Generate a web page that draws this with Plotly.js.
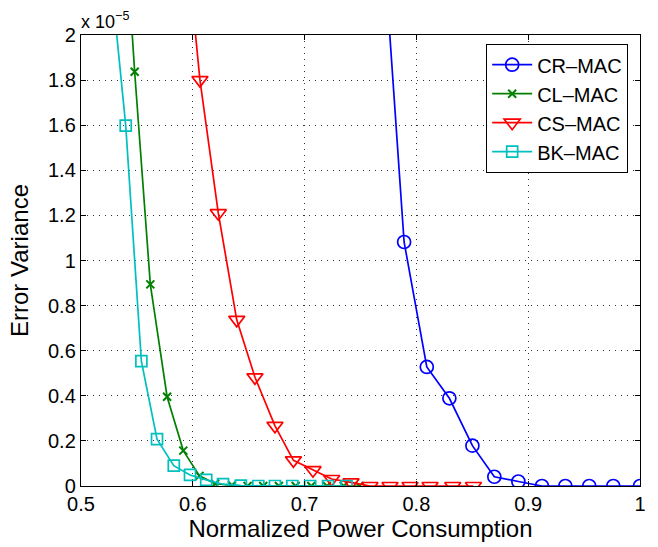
<!DOCTYPE html>
<html>
<head>
<meta charset="utf-8">
<script src="https://cdn.plot.ly/plotly-3.0.1.min.js"></script>
<style>html,body{margin:0;padding:0;background:#fff;}#chart{width:658px;height:547px;}</style>
</head>
<body>
<div id="chart"></div>
<script>
// Values of error variance are in units of 1e-5
const crX = [0.768, 0.789, 0.8093, 0.8295, 0.8501, 0.8697, 0.8912, 0.9123, 0.9332, 0.9546, 0.9761, 1.0];
const crY = [2.59, 1.082, 0.528, 0.389, 0.179, 0.041, 0.020, 0, 0, 0, 0, 0];

const clX = [0.533, 0.548, 0.562, 0.577, 0.5915, 0.606, 0.620, 0.635, 0.649, 0.663, 0.677, 0.692, 0.706, 0.720, 0.735, 0.749];
const clY = [2.98, 1.837, 0.894, 0.396, 0.157, 0.045, 0.010, 0.003, 0, 0, 0, 0, 0, 0, 0, 0];

const csX = [0.589, 0.6064, 0.6228, 0.6393, 0.6556, 0.6735, 0.690, 0.7075, 0.7242, 0.7415, 0.7585, 0.7764, 0.7943, 0.8122, 0.8325, 0.851];
const csY = [2.68, 1.80, 1.21, 0.737, 0.482, 0.267, 0.114, 0.07, 0.031, 0.016, 0, 0, 0, 0, 0, 0];

const bkX = [0.525, 0.540, 0.554, 0.568, 0.583, 0.5975, 0.612, 0.627, 0.643, 0.6586, 0.6735, 0.689, 0.705, 0.721, 0.7375];
const bkY = [2.35, 1.598, 0.554, 0.208, 0.09, 0.049, 0.027, 0.008, 0.002, 0, 0, 0, 0, 0, 0];

const seriesNames = ['CR\u2013MAC', 'CL\u2013MAC', 'CS\u2013MAC', 'BK\u2013MAC'];
const xTicks = [0.5, 0.6, 0.7, 0.8, 0.9, 1];
const xTickText = ['0.5', '0.6', '0.7', '0.8', '0.9', '1'];
const yTicks = [0, 0.2, 0.4, 0.6, 0.8, 1, 1.2, 1.4, 1.6, 1.8, 2];
const yTickText = ['0', '0.2', '0.4', '0.6', '0.8', '1', '1.2', '1.4', '1.6', '1.8', '2'];

const FONT = 'Liberation Sans, Arial, Helvetica, sans-serif';

const traces = [
  {x: crX, y: crY, name: seriesNames[0], mode: 'lines+markers',
   line: {color: '#0000FF', width: 1.7},
   marker: {symbol: 'circle-open', size: 13, color: '#0000FF', line: {width: 1.7, color: '#0000FF'}}},
  {x: clX, y: clY, name: seriesNames[1], mode: 'lines+markers',
   line: {color: '#008000', width: 1.7},
   marker: {symbol: 'x-thin-open', size: 8, color: '#008000', line: {width: 2, color: '#008000'}}},
  {x: csX, y: csY, name: seriesNames[2], mode: 'lines+markers',
   line: {color: '#FF0000', width: 1.7},
   marker: {symbol: 'triangle-down-open', size: 14, color: '#FF0000', line: {width: 1.7, color: '#FF0000'}}},
  {x: bkX, y: bkY, name: seriesNames[3], mode: 'lines+markers',
   line: {color: '#00BFBF', width: 1.7},
   marker: {symbol: 'square-open', size: 11, color: '#00BFBF', line: {width: 1.7, color: '#00BFBF'}}}
];

const axisCommon = {
  showline: true, linecolor: '#000', linewidth: 1.2, mirror: 'ticks',
  ticks: 'inside', ticklen: 5, tickcolor: '#000', tickwidth: 1,
  showgrid: true, gridcolor: '#333', griddash: '1px,5px', gridwidth: 1,
  zeroline: false,
  tickfont: {family: FONT, size: 20, color: '#000'}
};

const layout = {
  width: 658, height: 547,
  margin: {l: 81, r: 18, t: 35, b: 61},
  paper_bgcolor: '#fff', plot_bgcolor: '#fff',
  showlegend: true,
  xaxis: Object.assign({}, axisCommon, {
    range: [0.5, 1], tickvals: xTicks, ticktext: xTickText,
    title: {text: 'Normalized Power Consumption', font: {family: FONT, size: 24, color: '#000'}, standoff: 6}
  }),
  yaxis: Object.assign({}, axisCommon, {
    range: [0, 2], tickvals: yTicks, ticktext: yTickText,
    title: {text: 'Error Variance', font: {family: FONT, size: 24, color: '#000'}, standoff: 12}
  }),
  legend: {
    x: 0.9785, y: 0.98, xanchor: 'right', yanchor: 'top',
    bgcolor: '#fff', bordercolor: '#000', borderwidth: 1.2,
    font: {family: FONT, size: 20, color: '#000'},
    tracegroupgap: 0, itemwidth: 40
  },
  annotations: [{
    xref: 'paper', yref: 'paper', x: 0, y: 1, xanchor: 'left', yanchor: 'bottom',
    text: 'x 10<sup>\u22125</sup>', showarrow: false, xshift: -2, yshift: 1,
    font: {family: FONT, size: 18, color: '#000'}
  }]
};

Plotly.newPlot('chart', traces, layout, {displayModeBar: false, staticPlot: true});
</script>
</body>
</html>
